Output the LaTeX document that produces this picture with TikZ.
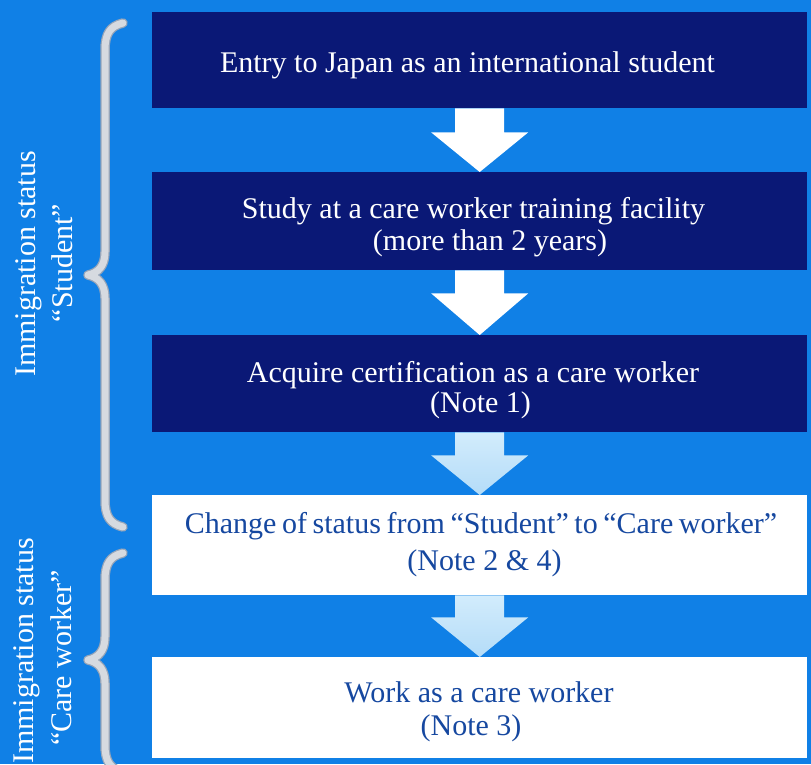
\documentclass[tikz,border=0pt]{standalone}
\usepackage{fontspec}
\setmainfont{Liberation Serif}
\usetikzlibrary{calc}
\definecolor{bgblue}{RGB}{16,128,230}
\definecolor{navy}{RGB}{10,24,118}
\definecolor{darktext}{RGB}{22,72,160}
\definecolor{bracefill}{RGB}{214,218,224}
\definecolor{braceedge}{RGB}{150,165,185}
\definecolor{lighttop}{RGB}{210,236,252}
\definecolor{lightbot}{RGB}{180,220,248}
\begin{document}
\begin{tikzpicture}[x=1pt,y=-1pt,
  boxbase/.style={rectangle, draw=none, inner sep=0pt, minimum width=655pt, anchor=north west},
  navybox/.style={boxbase, fill=navy},
  whitebox/.style={boxbase, fill=white},
  lbl/.style={font=\fontsize{30}{36}\selectfont, inner sep=0pt, anchor=base},
  navylbl/.style={lbl, text=white},
  whitelbl/.style={lbl, text=darktext},
  sidelbl/.style={lbl, text=white, rotate=90},
  bracelook/.style={line cap=round, line join=round},
]
\useasboundingbox (0,0) rectangle (811,764);
\clip (0,0) rectangle (811,764);
\fill[bgblue] (0,0) rectangle (811,764);

% boxes
\node[navybox, minimum height=96pt]  (b1) at (152,12)  {};
\node[navybox, minimum height=98pt]  (b2) at (152,172) {};
\node[navybox, minimum height=97pt]  (b3) at (152,335) {};
\node[whitebox, minimum height=100pt] (b4) at (152,495) {};
\node[whitebox, minimum height=101pt] (b5) at (152,657) {};

% labels
\node[navylbl] (t1) at (467.5,72) {Entry to Japan as an international student};
\node[navylbl] (t2a) at (473.5,218) {Study at a care worker training facility};
\node[navylbl] (t2b) at (490,250) {(more than 2 years)};
\node[navylbl] (t3a) at (473,382) {Acquire certification as a care worker};
\node[navylbl] (t3b) at (480.5,412) {(Note 1)};
\node[whitelbl] (t4a) at (481,533) {\spaceskip=5.6pt plus 1pt Change of status from “Student” to “Care worker”};
\node[whitelbl] (t4b) at (484.5,570) {(Note 2 \& 4)};
\node[whitelbl] (t5a) at (479,702) {Work as a care worker};
\node[whitelbl] (t5b) at (471,735) {(Note 3)};

% arrows
\fill[white] ($(b1.south)+(-24.5,0)$) -- ++(0,24) -- ++(-24,0) -- (b2.north)
  -- ($(b1.south)+(48.5,24)$) -- ++(-24,0) -- ($(b1.south)+(24.5,0)$) -- cycle;
\fill[white] ($(b2.south)+(-24.5,0)$) -- ++(0,23) -- ++(-24,0) -- (b3.north)
  -- ($(b2.south)+(48.5,23)$) -- ++(-24,0) -- ($(b2.south)+(24.5,0)$) -- cycle;
\shade[top color=lighttop, bottom color=lightbot] ($(b3.south)+(-24.5,0)$) -- ++(0,23) -- ++(-24,0) -- (b4.north)
  -- ($(b3.south)+(48.5,23)$) -- ++(-24,0) -- ($(b3.south)+(24.5,0)$) -- cycle;
\shade[top color=lighttop, bottom color=lightbot] ($(b4.south)+(-24.5,0)$) -- ++(0,22) -- ++(-24,0) -- (b5.north)
  -- ($(b4.south)+(48.5,22)$) -- ++(-24,0) -- ($(b4.south)+(24.5,0)$) -- cycle;

% braces
\foreach \w/\c in {9.5/braceedge, 7/bracefill}{
  \draw[bracelook, line width=\w pt, color=\c]
    (123,23) .. controls (110,26) and (105,34) .. (105,50) -- (105,252)
    .. controls (105,266) and (98,273) .. (88,275)
    .. controls (98,277) and (105,284) .. (105,298) -- (105,500)
    .. controls (105,516) and (110,524) .. (123,527);
  \draw[bracelook, line width=\w pt, color=\c]
    (123,553) .. controls (110,556) and (105,564) .. (105,580) -- (105,637)
    .. controls (105,651) and (98,658) .. (88,660)
    .. controls (98,662) and (105,669) .. (105,683) -- (105,745)
    .. controls (105,761) and (110,769) .. (123,772);
}

% side labels
\node[sidelbl] (s1a) at (35,264) {Immigration status};
\node[sidelbl] (s1b) at (72,263) {“Student”};
\node[sidelbl] (s2a) at (33,651) {Immigration status};
\node[sidelbl] (s2b) at (71,658) {“Care worker”};
\end{tikzpicture}
\end{document}
